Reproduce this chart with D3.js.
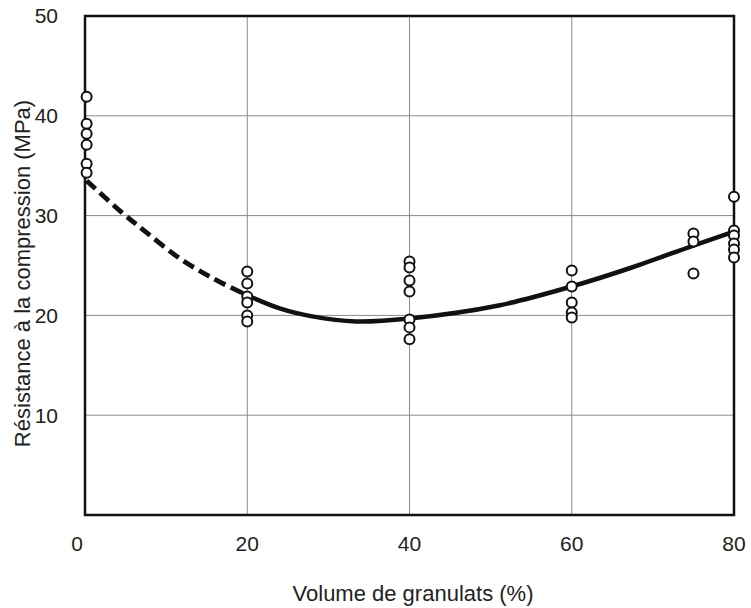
<!DOCTYPE html>
<html>
<head>
<meta charset="utf-8">
<script src="https://cdn.jsdelivr.net/npm/d3@7"></script>
<style>
  html, body { margin: 0; padding: 0; background: #fff; }
  svg { display: block; font-family: "Liberation Sans", Arial, Helvetica, sans-serif; }
</style>
</head>
<body>
<svg id="chart" width="751" height="608"></svg>
<script>
// Axis ticks
const xTicks = [0, 20, 40, 60, 80];
const yTicks = [10, 20, 30, 40, 50];

// Measured compressive strength (MPa) grouped by aggregate volume (%)
const volumes = [0.2, 20, 40, 60, 75, 80];
const strengths0  = [41.9, 39.2, 38.2, 37.1, 35.2, 34.3];
const strengths20 = [24.4, 23.2, 21.9, 21.3, 20.0, 19.4];
const strengths40 = [25.4, 24.8, 23.5, 22.4, 19.6, 18.8, 17.6];
const strengths60 = [24.5, 22.9, 21.3, 20.3, 19.8];
const strengths75 = [28.2, 27.4, 24.2];
const strengths80 = [31.9, 28.5, 28.0, 27.2, 26.6, 25.8];
const strengthGroups = [strengths0, strengths20, strengths40, strengths60, strengths75, strengths80];

// Trend curve: extrapolated part (dashed) and fitted part (solid)
const trendDashedX = [0.2, 4.7, 7.6, 11.7, 15.8, 19.5];
const trendDashedY = [33.5, 30.2, 28.3, 25.7, 23.7, 22.2];
const trendSolidX  = [19.5, 24, 28, 33.4, 40, 51, 60, 67.4, 75, 80];
const trendSolidY  = [22.2, 20.7, 19.9, 19.4, 19.7, 21.0, 22.9, 24.8, 27.0, 28.4];

const svg = d3.select("#chart");
const plotLeft = 85, plotRight = 734, plotTop = 16, plotBottom = 515;

const x = d3.scaleLinear().domain([0, 80]).range([plotLeft, plotRight]);
const y = d3.scaleLinear().domain([0, 50]).range([plotBottom, plotTop]);

// Grid lines
const grid = svg.append("g").attr("stroke", "#8a8a8a").attr("stroke-width", 1);
grid.selectAll("line.gx").data(xTicks.filter(d => d > 0 && d < 80)).join("line")
  .attr("x1", d => x(d)).attr("x2", d => x(d))
  .attr("y1", y(0)).attr("y2", y(50));
grid.selectAll("line.gy").data(yTicks.filter(d => d < 50)).join("line")
  .attr("x1", x(0)).attr("x2", x(80))
  .attr("y1", d => y(d)).attr("y2", d => y(d));

// Frame
svg.append("rect")
  .attr("x", x(0)).attr("y", y(50))
  .attr("width", x(80) - x(0)).attr("height", y(0) - y(50))
  .attr("fill", "none").attr("stroke", "#111").attr("stroke-width", 2.5);

// Tick labels
svg.append("g").selectAll("text").data(yTicks).join("text")
  .attr("x", plotLeft - 27).attr("y", d => y(d)).attr("dy", "0.35em")
  .attr("text-anchor", "end").attr("font-size", 21).attr("fill", "#222")
  .text(d => d);

svg.append("g").selectAll("text").data(xTicks).join("text")
  .attr("x", d => d === 0 ? x(d) - 2 : x(d))
  .attr("y", plotBottom + 29).attr("dy", "0.35em")
  .attr("text-anchor", d => d === 0 ? "end" : "middle")
  .attr("font-size", 21).attr("fill", "#222")
  .text(d => d);

// Axis titles
svg.append("text")
  .attr("x", 413).attr("y", 593).attr("dy", "0.35em")
  .attr("text-anchor", "middle").attr("font-size", 22).attr("fill", "#222")
  .text("Volume de granulats (%)");

svg.append("text")
  .attr("transform", `translate(22, ${(plotTop + plotBottom) / 2 + 8}) rotate(-90)`)
  .attr("dy", "0.35em")
  .attr("text-anchor", "middle").attr("font-size", 22).attr("fill", "#222")
  .text("Résistance à la compression (MPa)");

// Trend curve
const line = d3.line().x(d => x(d[0])).y(d => y(d[1])).curve(d3.curveCatmullRom.alpha(0.5));
svg.append("path")
  .attr("d", line(d3.zip(trendDashedX, trendDashedY)))
  .attr("fill", "none").attr("stroke", "#111").attr("stroke-width", 4.8)
  .attr("stroke-dasharray", "12,6");
svg.append("path")
  .attr("d", line(d3.zip(trendSolidX, trendSolidY)))
  .attr("fill", "none").attr("stroke", "#111").attr("stroke-width", 4.5)
  .attr("stroke-linecap", "round");

// Data points
const points = volumes.flatMap((v, i) => strengthGroups[i].map(s => [v, s]));
svg.append("g").selectAll("circle").data(points).join("circle")
  .attr("cx", d => x(d[0])).attr("cy", d => y(d[1])).attr("r", 5)
  .attr("fill", "#fff").attr("stroke", "#111").attr("stroke-width", 2);
</script>
</body>
</html>
